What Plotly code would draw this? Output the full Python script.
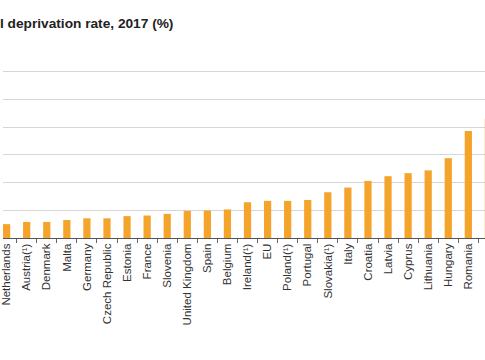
import plotly.graph_objects as go

categories = ["Netherlands", "Austria(¹)", "Denmark", "Malta", "Germany", "Czech Republic",
              "Estonia", "France", "Slovenia", "United Kingdom", "Spain", "Belgium",
              "Ireland(¹)", "EU", "Poland(¹)", "Portugal", "Slovakia(¹)", "Italy",
              "Croatia", "Latvia", "Cyprus", "Lithuania", "Hungary", "Romania", "Greece"]
values = [2.5, 2.9, 2.9, 3.25, 3.55, 3.55, 3.95, 4.05, 4.35, 4.9, 4.95, 5.15,
          6.45, 6.7, 6.7, 6.85, 8.25, 9.1, 10.3, 11.15, 11.7, 12.2, 14.4, 19.3, 21.5]
# visible part of the (cropped) chart title
title_text = "l deprivation rate, 2017 (%)"

W, H = 485, 360
plot_top, plot_bottom = 44.0, 237.7

fig = go.Figure(go.Bar(
    x=categories, y=values,
    marker=dict(color="#F4A42A", line=dict(width=0)),
    hoverinfo="x+y",
))

fig.update_layout(
    width=W, height=H,
    margin=dict(l=0, r=0, t=plot_top, b=H - plot_bottom, pad=0),
    paper_bgcolor="white", plot_bgcolor="white",
    bargap=0.64,
    showlegend=False,
    font=dict(family="Liberation Sans, Arial, sans-serif", color="#333333"),
    xaxis=dict(
        type="category",
        range=[-0.18, 23.83],
        tickangle=-90,
        tickfont=dict(size=11.5, color="#333333"),
        showline=True, linecolor="#555555", linewidth=1,
        ticks="outside", ticklen=4, tickcolor="#666666", tickwidth=1,
        tickson="boundaries",
        showgrid=False,
    ),
    yaxis=dict(
        range=[0, 35],
        dtick=5,
        showticklabels=False,
        showgrid=True, gridcolor="#D6D6D6", gridwidth=1,
        zeroline=False,
        showline=False,
    ),
    annotations=[dict(
        text="<b>" + title_text + "</b>",
        xref="paper", yref="paper",
        x=173 / W, xanchor="right",
        y=(plot_bottom - 24) / (plot_bottom - plot_top), yanchor="middle",
        showarrow=False,
        font=dict(size=13.7, color="#222222", family="Liberation Sans, Arial, sans-serif"),
    )],
)

fig.write_html("out.html",
               config={"displayModeBar": False},
               post_script="document.body.style.margin='0';document.body.style.overflow='hidden';")
